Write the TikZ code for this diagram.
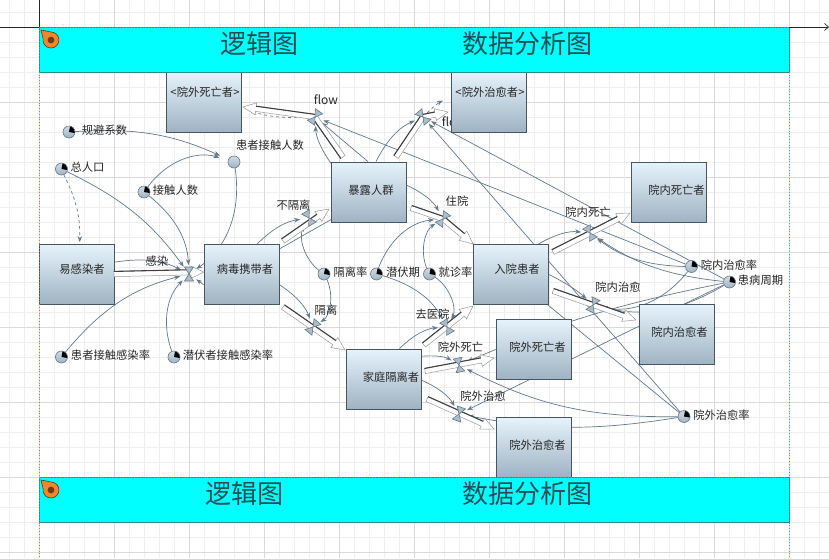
\documentclass[tikz,border=0pt]{standalone}
\usepackage{fontspec}
\setmainfont{Noto Sans CJK SC}
\usetikzlibrary{arrows.meta,calc,backgrounds}
\definecolor{gridminor}{HTML}{EEEEEE}
\definecolor{gridmajor}{HTML}{D9D9D9}
\definecolor{linkc}{HTML}{64798A}
\definecolor{boxedge}{HTML}{46555F}
\definecolor{boxtop}{HTML}{E6F3FC}
\definecolor{boxbot}{HTML}{9FB3C2}
\definecolor{bannerc}{HTML}{00FFFF}
\definecolor{bannerline}{HTML}{2A8A8F}
\definecolor{titlec}{HTML}{1E4F58}
\definecolor{pinc}{HTML}{F0862A}
\tikzset{
  stock/.style={rectangle, draw=boxedge, line width=.9pt, top color=boxtop, bottom color=boxbot, minimum width=75pt, minimum height=60pt, inner sep=0pt},
  lbl/.style={inner sep=0pt, font=\fontsize{11.3}{13}\selectfont, text=black!85},
  title/.style={inner sep=0pt, font=\fontsize{26}{30}\selectfont, text=titlec},
  auxplain/.style={circle, draw=linkc, line width=.6pt, top color=boxtop!80!gray, bottom color=boxbot, minimum size=12pt, inner sep=0pt},
  aux/.style={auxplain, path picture={\fill[black] (0,0) -- (80:6pt) arc (80:-10:6pt) -- cycle;}},
  link/.style={draw=linkc, line width=.7pt, -{Stealth[length=6pt,width=4.5pt]}, shorten >=9pt},
  dashlink/.style={link, dashed},
  pipeline/.style={draw=gray!80, line width=.5pt, fill=white},
  pipedark/.style={draw=black!75, line width=1.1pt},
  banner/.style={rectangle, draw=bannerline, line width=.8pt, fill=bannerc, minimum width=750pt, minimum height=45pt, inner sep=0pt},
  edgeline/.style={draw=pinc!90!black, dotted, line width=.8pt},
  valve/.pic={\path[draw=linkc, line width=.6pt, fill=boxbot!85!white] (-4.5,-7) -- (4.5,-7) -- (-4.5,7) -- (4.5,7) -- cycle;},
  marker/.pic={\draw[draw=black!60!pinc, line width=.6pt, fill=pinc] (-10,-10) -- (2.7,-7.5) arc[start angle=70, end angle=-190, radius=8pt] -- cycle;
    \fill[black!55!pinc] (0,0) circle (3.4pt);}
}
\newcommand{\flowtail}[3][90]{%
  \draw[pipeline] let \p1=($(#3)-(#2)$), \n1={atan2(\y1,\x1)} in
    ($(#2)+(\n1+90:2.6pt)$) -- ($(#3)+(\n1+90:2.6pt)$) -- ($(#3)+(\n1-90:2.6pt)$) -- ($(#2)+(\n1-90:2.6pt)$) -- cycle;
  \draw[pipedark] let \p1=($(#3)-(#2)$), \n1={atan2(\y1,\x1)} in
    ($(#2)+(\n1+#1:2.6pt)$) -- ($(#3)+(\n1+#1:2.6pt)$);
}
\newcommand{\flowpipe}[3][90]{%
  \draw[pipeline] let \p1=($(#3)-(#2)$), \n1={atan2(\y1,\x1)} in
    ($(#2)+(\n1+90:2.6pt)$) -- ($(#3)+(\n1+180:13pt)+(\n1+90:2.6pt)$) -- ($(#3)+(\n1+180:13pt)+(\n1+90:6pt)$) -- (#3)
    -- ($(#3)+(\n1+180:13pt)+(\n1-90:6pt)$) -- ($(#3)+(\n1+180:13pt)+(\n1-90:2.6pt)$) -- ($(#2)+(\n1-90:2.6pt)$) -- cycle;
  \draw[pipedark] let \p1=($(#3)-(#2)$), \n1={atan2(\y1,\x1)} in
    ($(#2)+(\n1+#1:2.6pt)$) -- ($(#3)+(\n1+180:13pt)+(\n1+#1:2.6pt)$);
}
\begin{document}
\begin{tikzpicture}[x=1pt,y=-1pt]
\useasboundingbox (0,0) rectangle (829,558);
\begin{pgfonlayer}{background}
\fill[white] (0,0) rectangle (829,558);
% grid
\foreach \x in {9,24,...,829} \draw[gridminor, line width=.6pt] (\x,0) -- (\x,558);
\foreach \y in {12,27,...,558} \draw[gridminor, line width=.6pt] (0,\y) -- (829,\y);
\foreach \x in {39,114,...,829} \draw[gridmajor, line width=.7pt] (\x,0) -- (\x,558);
\foreach \y in {27,102,...,558} \draw[gridmajor, line width=.7pt] (0,\y) -- (829,\y);
\end{pgfonlayer}
% valves
\coordinate (ganran) at (189,274);
\coordinate (bugeli) at (309,218);
\coordinate (geli) at (313,327);
\coordinate (flowa) at (315,117);
\coordinate (flowb) at (423,117);
\coordinate (zhuyuan) at (443,219);
\coordinate (neisi) at (590,233);
\coordinate (neiyu) at (593,305);
\coordinate (quyi) at (447,327);
\coordinate (waisi) at (459,365);
\coordinate (waiyu) at (459,414);
% pipe ends
\coordinate (t1) at (114,274);
\coordinate (h1) at (204,272);
\coordinate (t2) at (283,241);
\coordinate (h2) at (329,209);
\coordinate (t3) at (283,307);
\coordinate (h3) at (345,350);
\coordinate (t4) at (343,157);
\coordinate (h4) at (243,107);
\coordinate (t5) at (396,157);
\coordinate (h5) at (448,112);
\coordinate (t6) at (411,208);
\coordinate (h6) at (473,244);
\coordinate (t7) at (553,252);
\coordinate (h7) at (630,213);
\coordinate (t8) at (553,291);
\coordinate (h8) at (636,320);
\coordinate (t9) at (424,345);
\coordinate (h9) at (473,306);
\coordinate (t10) at (425,371);
\coordinate (h10) at (494,358);
\coordinate (t11) at (427,399);
\coordinate (h11) at (494,429);
% this one sits under the box
\node[lbl, font=\fontsize{12}{14}\selectfont] (flowbt) at (454,122) {flow};
% stocks
\node[stock] (yuanwaisi) at (204,102) {};
\node[stock] (yuanwaiyu) at (489,102) {};
\node[stock] (baolu) at (369,192) {};
\node[stock] (yigan) at (76.5,274.5) {};
\node[stock] (bingdu) at (241.5,274.5) {};
\node[stock] (ruyuan) at (511,274.5) {};
\node[stock] (neisiz) at (669,192) {};
\node[stock] (neiyuz) at (676.5,334.5) {};
\node[stock] (waisiz) at (534,349) {};
\node[stock] (jiating) at (384,379) {};
\node[stock] (waiyuz) at (534,447) {};
\node[lbl] (yuanwaisit) at (205,92) {<院外死亡者>};
\node[lbl] (yuanwaiyut) at (490,92) {<院外治愈者>};
\node[lbl] (baolut) at (371,190) {暴露人群};
\node[lbl] (yigant) at (82,269) {易感染者};
\node[lbl] (bingdut) at (245,269) {病毒携带者};
\node[lbl] (ruyuant) at (517,269) {入院患者};
\node[lbl] (neisizt) at (676.5,190) {院内死亡者};
\node[lbl] (neiyuzt) at (679.5,332) {院内治愈者};
\node[lbl] (waisizt) at (537.5,347) {院外死亡者};
\node[lbl] (jiatingt) at (391,377) {家庭隔离者};
\node[lbl] (waiyuzt) at (537.5,445) {院外治愈者};
% converters
\node[aux] (guibi) at (69,132) {};
\node[aux] (zongrk) at (61.5,169) {};
\node[aux] (jiechu) at (144,192) {};
\node[auxplain] (huanzhe) at (234,162) {};
\node[aux] (gelilv) at (324,274) {};
\node[aux] (qianfu) at (376.5,274) {};
\node[aux] (jiuzhen) at (429.5,274) {};
\node[aux] (neiylv) at (691.5,266.5) {};
\node[aux] (zhouqi) at (729.5,282) {};
\node[aux] (waiylv) at (684,416.5) {};
\node[aux] (hzgan) at (61.5,357) {};
\node[aux] (qfgan) at (174,357) {};
\node[lbl] (guibit) at (104.5,130) {规避系数};
\node[lbl] (zongrkt) at (87.5,167) {总人口};
\node[lbl] (jiechut) at (175.5,190) {接触人数};
\node[lbl] (huanzhet) at (270,145) {患者接触人数};
\node[lbl] (gelilvt) at (350.5,272) {隔离率};
\node[lbl] (qianfut) at (403,272) {潜伏期};
\node[lbl] (jiuzhent) at (455.5,272) {就诊率};
\node[lbl] (neiylvt) at (729,265) {院内治愈率};
\node[lbl] (zhouqit) at (760.5,280) {患病周期};
\node[lbl] (waiylvt) at (721.5,415) {院外治愈率};
\node[lbl] (hzgant) at (110.5,355) {患者接触感染率};
\node[lbl] (qfgant) at (228,355) {潜伏者接触感染率};
% rate labels
\node[lbl, font=\fontsize{12}{14}\selectfont] (flowat) at (326,100) {flow};
\node[lbl] (ganrant) at (157,261) {感染};
\node[lbl] (bugelit) at (293.5,205) {不隔离};
\node[lbl] (zhuyuant) at (457,201) {住院};
\node[lbl] (neisit) at (588,212) {院内死亡};
\node[lbl] (gelit) at (326,310) {隔离};
\node[lbl] (quyit) at (432.5,314) {去医院};
\node[lbl] (neiyut) at (618,287) {院内治愈};
\node[lbl] (waisit) at (460.5,347) {院外死亡};
\node[lbl] (waiyut) at (483,396) {院外治愈};
% links
\begin{pgfonlayer}{background}
\draw[link] (guibi) to[bend left=14] (huanzhe);
\draw[link] (jiechu) to[bend left=35] (huanzhe);
\draw[link] (jiechu) to[bend left=24] (ganran);
\draw[link] (zongrk) to[bend left=14] (ganran);
\draw[dashlink, shorten >=2pt] (zongrk) to[bend left=14] (yigan);
\draw[link] (huanzhe) to[bend left=32] (ganran);
\draw[link] (yigan.18) to[bend left=18] (ganran);
\draw[link] (hzgan) to[bend left=18] (ganran);
\draw[link] (qfgan) to[bend left=32] (ganran);
\draw[link] (bingdu.195) -- (ganran);
\draw[link] (bingdu.63) to[bend left=18] (bugeli);
\draw[link] (gelilv) to[bend left=40] (bugeli);
\draw[link] (gelilv) to[bend left=40] (geli);
\draw[link] (bingdu.-15) to[bend left=18] (geli);
\draw[link, -, shorten >=0pt] (bingdu.34) -- (baolu.216);
\draw[link] (baolu.143) to[bend left=16] (flowa);
\draw[link] (baolu.92) -- (flowa);
\draw[link] (baolu.77) to[bend left=20] (flowb);
\draw[dashlink] (flowa) to[bend left=10] (yuanwaisi.-10);
\draw[dashlink] (flowb) to[bend left=10] (yuanwaiyu.172);
\draw[link] (neiylv) -- (flowa);
\draw[link] (zhouqi) -- (flowb);
\draw[link] (waiylv) -- (flowb);
\draw[link] (waiylv) -- (zhuyuan);
\draw[link] (baolu.10) to[bend left=18] (zhuyuan);
\draw[link] (qianfu) to[bend left=32] (zhuyuan);
\draw[link] (jiuzhen) to[bend left=40] (zhuyuan);
\draw[link] (qianfu) to[bend left=22] (quyi);
\draw[link] (jiuzhen) to[bend left=42] (quyi);
\draw[link] (jiating.63) to[bend left=20] (quyi);
\draw[link] (jiating.31) to[bend left=18] (waisi);
\draw[link] (jiating.-2) to[bend left=18] (waiyu);
\draw[link] (ruyuan.48) to[bend left=18] (neisi);
\draw[link] (ruyuan.0) to[bend left=8] (neiyu);
\draw[link] (neiylv) to[bend left=18] (neisi);
\draw[link] (zhouqi) to[bend left=14] (neisi);
\draw[link] (neiylv) to[bend left=32] (neiyu);
\draw[link] (zhouqi) to[bend left=22] (neiyu);
\draw[link] (zhouqi) to[bend right=6] (waisi);
\draw[link] (zhouqi) -- (waiyu);
\draw[link] (waiylv) to[bend left=14] (waisi);
\draw[link] (waiylv) to[bend left=10] (waiyu);
\end{pgfonlayer}
% flow pipes
\flowpipe{t1}{h1}
\flowpipe{t2}{h2}
\flowpipe[90]{t3}{h3}
\flowtail[90]{t4}{flowa}
\flowpipe[-90]{flowa}{h4}
\flowtail{t5}{flowb}
\flowpipe{flowb}{h5}
\flowtail{t6}{zhuyuan}
\flowpipe{zhuyuan}{h6}
\flowpipe{t7}{h7}
\flowpipe{t8}{h8}
\flowpipe{t9}{h9}
\flowpipe{t10}{h10}
\flowpipe{t11}{h11}
\pic at (ganran) {valve};
\pic[rotate=30] at (bugeli) {valve};
\pic[rotate=-40] at (geli) {valve};
\pic[rotate=-35] at (flowa) {valve};
\pic[rotate=40] at (flowb) {valve};
\pic[rotate=-35] at (zhuyuan) {valve};
\pic[rotate=30] at (neisi) {valve};
\pic[rotate=-25] at (neiyu) {valve};
\pic[rotate=30] at (quyi) {valve};
\pic[rotate=12] at (waisi) {valve};
\pic[rotate=-20] at (waiyu) {valve};
% banners
\node[banner] (topbar) at (414,49.5) {};
\node[banner] (botbar) at (414,499.5) {};
\node[title] (topa) at (259,44) {逻辑图};
\node[title] (topb) at (527,44) {数据分析图};
\node[title] (bota) at (244,494) {逻辑图};
\node[title] (botb) at (527,494) {数据分析图};
\pic at (51,40) {marker};
\pic at (51,490) {marker};
% page edges
\draw[edgeline] (39,27) -- (39,558);
\draw[edgeline] (789,27) -- (789,558);
\draw[edgeline] (39,27) -- (789,27);
\draw[edgeline] (39,477) -- (789,477);
\draw[black!85, line width=.7pt] (0,27) -- (39,27) (39,0) -- (39,27);
\draw[black!85, line width=.7pt, -{Straight Barb[length=4pt,width=7pt]}] (789,27) -- (829,27);
\end{tikzpicture}
\end{document}
